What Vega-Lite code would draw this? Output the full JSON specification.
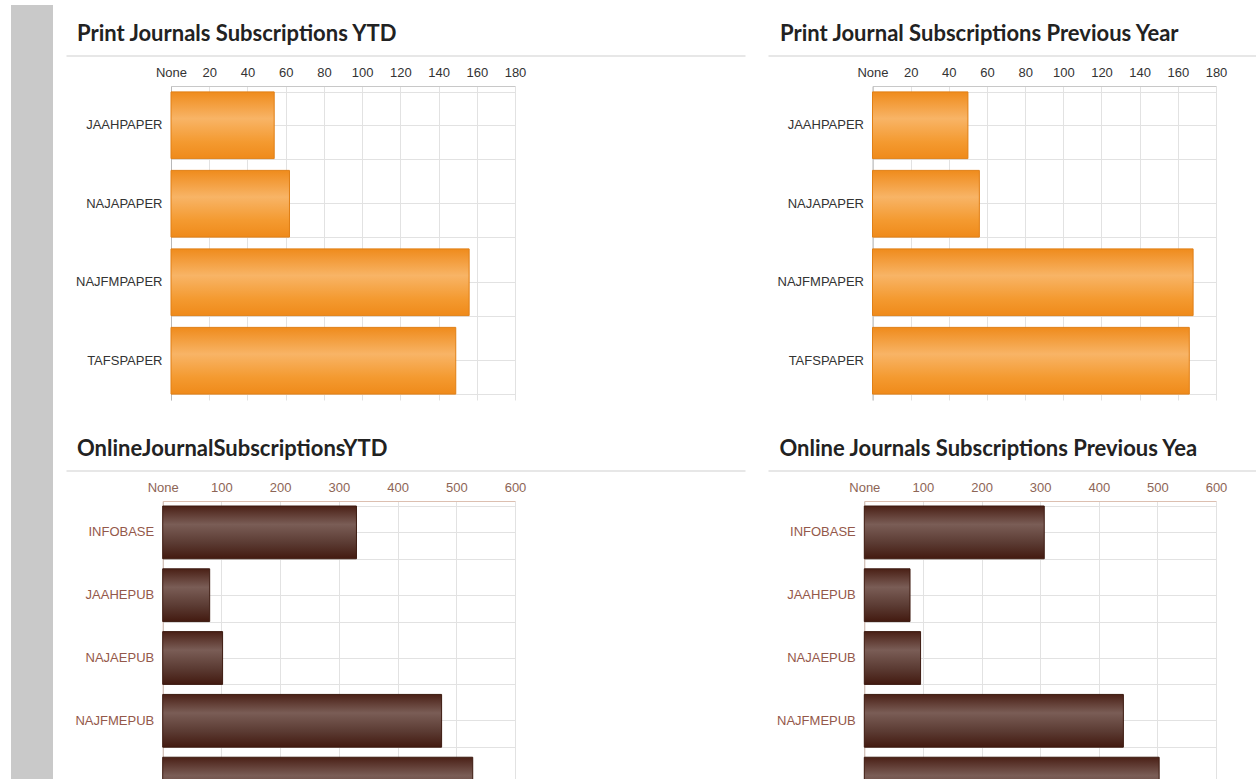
{
  "$schema": "https://vega.github.io/schema/vega-lite/v6.json",
  "background": "white",
  "padding": {"left": 11, "top": 5, "right": 0, "bottom": 0},
  "config": {"view": {"stroke": null}},
  "datasets": {
    "printYTD": [
      {"journal": "JAAHPAPER", "subscriptions": 54},
      {"journal": "NAJAPAPER", "subscriptions": 62},
      {"journal": "NAJFMPAPER", "subscriptions": 156},
      {"journal": "TAFSPAPER", "subscriptions": 149}
    ],
    "printPrev": [
      {"journal": "JAAHPAPER", "subscriptions": 50},
      {"journal": "NAJAPAPER", "subscriptions": 56},
      {"journal": "NAJFMPAPER", "subscriptions": 168},
      {"journal": "TAFSPAPER", "subscriptions": 166}
    ],
    "onlineYTD": [
      {"journal": "INFOBASE", "subscriptions": 330},
      {"journal": "JAAHEPUB", "subscriptions": 80},
      {"journal": "NAJAEPUB", "subscriptions": 102},
      {"journal": "NAJFMEPUB", "subscriptions": 475},
      {"journal": "TAFSEPUB", "subscriptions": 528}
    ],
    "onlinePrev": [
      {"journal": "INFOBASE", "subscriptions": 307},
      {"journal": "JAAHEPUB", "subscriptions": 78},
      {"journal": "NAJAEPUB", "subscriptions": 96},
      {"journal": "NAJFMEPUB", "subscriptions": 442},
      {"journal": "TAFSEPUB", "subscriptions": 503}
    ]
  },
  "spacing": 13,
  "hconcat": [
    {
      "width": 42,
      "height": 690,
      "data": {"values": [{"panel": "sidebar"}]},
      "mark": {"type": "rect", "color": "#c9c9c9"},
      "encoding": {
        "x": {"datum": 0, "type": "quantitative", "scale": {"domain": [0, 1], "range": [0, 42], "nice": false}, "axis": null},
        "x2": {"datum": 1},
        "y": {"datum": 0, "type": "quantitative", "scale": {"domain": [0, 1], "range": [-81, 740], "nice": false, "zero": false}, "axis": null},
        "y2": {"datum": 1}
      }
    },
    {
      "spacing": 38,
      "vconcat": [
        {
          "spacing": 23,
          "hconcat": [
            {
              "width": 679,
              "height": 314,
              "data": {"name": "printYTD"},
              "title": {"text": "Print Journals Subscriptions YTD", "anchor": "start", "frame": "group", "dx": 11, "offset": 9.5, "font": "Lato, Liberation Sans, sans-serif", "fontSize": 22, "fontWeight": "bold", "color": "#222222"},
              "layer": [
                {
                  "mark": {"type": "bar", "stroke": "#e07f15", "strokeWidth": 1, "fill": {"gradient": "linear", "x1": 0, "y1": 0, "x2": 0, "y2": 1, "stops": [{"offset": 0, "color": "#ef8b1c"}, {"offset": 0.4, "color": "#f8b466"}, {"offset": 0.75, "color": "#f49a30"}, {"offset": 1, "color": "#ef8a1a"}]}},
                  "encoding": {
                    "y": {"field": "journal", "type": "nominal", "sort": null, "scale": {"paddingInner": 0.15, "paddingOuter": 0.075}, "axis": {"orient": "left", "offset": -105, "title": null, "ticks": false, "labelPadding": 9, "labelFont": "Liberation Sans, Arial, sans-serif", "labelFontSize": 13, "labelColor": "#333333", "domainColor": "#b8b8b8", "grid": true, "gridColor": "#e2e2e2", "tickBand": "center"}},
                    "x": {"field": "subscriptions", "type": "quantitative", "scale": {"domain": [0, 180], "range": [105, 449], "nice": false}, "axis": {"orient": "top", "values": [0, 20, 40, 60, 80, 100, 120, 140, 160, 180], "labelExpr": "datum.value == 0 ? 'None' : datum.label", "title": null, "ticks": false, "labelPadding": 7, "labelFont": "Liberation Sans, Arial, sans-serif", "labelFontSize": 13, "labelColor": "#333333", "labelFlush": false, "labelOverlap": false, "domainColor": "#c8c8c8", "grid": true, "gridColor": "#e2e2e2"}}
                  }
                },
                {
                  "mark": {"type": "bar", "opacity": 0},
                  "encoding": {
                    "y": {"field": "journal", "type": "nominal", "sort": null, "axis": {"orient": "left", "offset": -105, "title": null, "labels": false, "ticks": false, "domain": false, "grid": true, "gridColor": "#e2e2e2", "tickBand": "extent"}},
                    "x": {"field": "subscriptions", "type": "quantitative", "scale": {"domain": [0, 180], "range": [105, 449], "nice": false}, "axis": null}
                  }
                },
                {
                  "mark": {"type": "bar", "opacity": 0},
                  "encoding": {
                    "y": {"field": "journal", "type": "nominal", "sort": null, "axis": null},
                    "x": {"field": "subscriptions", "type": "quantitative", "scale": {"domain": [0, 1000], "nice": false}, "axis": {"orient": "top", "offset": 30.5, "title": null, "labels": false, "ticks": false, "grid": false, "domainColor": "#cfcfcf"}}
                  }
                }
              ],
              "resolve": {"scale": {"x": "independent"}, "axis": {"x": "independent", "y": "independent"}}
            },
            {
              "width": 488,
              "height": 314,
              "data": {"name": "printPrev"},
              "title": {"text": "Print Journal Subscriptions Previous Year", "anchor": "start", "frame": "group", "dx": 12, "offset": 9.5, "font": "Lato, Liberation Sans, sans-serif", "fontSize": 22, "fontWeight": "bold", "color": "#222222"},
              "layer": [
                {
                  "mark": {"type": "bar", "stroke": "#e07f15", "strokeWidth": 1, "fill": {"gradient": "linear", "x1": 0, "y1": 0, "x2": 0, "y2": 1, "stops": [{"offset": 0, "color": "#ef8b1c"}, {"offset": 0.4, "color": "#f8b466"}, {"offset": 0.75, "color": "#f49a30"}, {"offset": 1, "color": "#ef8a1a"}]}},
                  "encoding": {
                    "y": {"field": "journal", "type": "nominal", "sort": null, "scale": {"paddingInner": 0.15, "paddingOuter": 0.075}, "axis": {"orient": "left", "offset": -104.5, "title": null, "ticks": false, "labelPadding": 9, "labelFont": "Liberation Sans, Arial, sans-serif", "labelFontSize": 13, "labelColor": "#333333", "domainColor": "#b8b8b8", "grid": true, "gridColor": "#e2e2e2", "tickBand": "center"}},
                    "x": {"field": "subscriptions", "type": "quantitative", "scale": {"domain": [0, 180], "range": [104.5, 448], "nice": false}, "axis": {"orient": "top", "values": [0, 20, 40, 60, 80, 100, 120, 140, 160, 180], "labelExpr": "datum.value == 0 ? 'None' : datum.label", "title": null, "ticks": false, "labelPadding": 7, "labelFont": "Liberation Sans, Arial, sans-serif", "labelFontSize": 13, "labelColor": "#333333", "labelFlush": false, "labelOverlap": false, "domainColor": "#c8c8c8", "grid": true, "gridColor": "#e2e2e2"}}
                  }
                },
                {
                  "mark": {"type": "bar", "opacity": 0},
                  "encoding": {
                    "y": {"field": "journal", "type": "nominal", "sort": null, "axis": {"orient": "left", "offset": -104.5, "title": null, "labels": false, "ticks": false, "domain": false, "grid": true, "gridColor": "#e2e2e2", "tickBand": "extent"}},
                    "x": {"field": "subscriptions", "type": "quantitative", "scale": {"domain": [0, 180], "range": [104.5, 448], "nice": false}, "axis": null}
                  }
                },
                {
                  "mark": {"type": "bar", "opacity": 0},
                  "encoding": {
                    "y": {"field": "journal", "type": "nominal", "sort": null, "axis": null},
                    "x": {"field": "subscriptions", "type": "quantitative", "scale": {"domain": [0, 1000], "nice": false}, "axis": {"orient": "top", "offset": 30.5, "title": null, "labels": false, "ticks": false, "grid": false, "domainColor": "#cfcfcf"}}
                  }
                }
              ],
              "resolve": {"scale": {"x": "independent"}, "axis": {"x": "independent", "y": "independent"}}
            }
          ]
        },
        {
          "spacing": 23,
          "hconcat": [
            {
              "width": 679,
              "height": 314,
              "data": {"name": "onlineYTD"},
              "title": {"text": "OnlineJournalSubscriptionsYTD", "anchor": "start", "frame": "group", "dx": 11, "offset": 9.5, "font": "Lato, Liberation Sans, sans-serif", "fontSize": 22, "fontWeight": "bold", "color": "#222222"},
              "layer": [
                {
                  "mark": {"type": "bar", "stroke": "#3c1a10", "strokeWidth": 1, "fill": {"gradient": "linear", "x1": 0, "y1": 0, "x2": 0, "y2": 1, "stops": [{"offset": 0, "color": "#4a2016"}, {"offset": 0.35, "color": "#7a5d56"}, {"offset": 0.7, "color": "#5b3b33"}, {"offset": 1, "color": "#431a10"}]}},
                  "encoding": {
                    "y": {"field": "journal", "type": "nominal", "sort": null, "scale": {"paddingInner": 0.16, "paddingOuter": 0.08}, "axis": {"orient": "left", "offset": -96.7, "title": null, "ticks": false, "labelPadding": 9, "labelFont": "Liberation Sans, Arial, sans-serif", "labelFontSize": 13, "labelColor": "#94584a", "domainColor": "#cdb6aa", "grid": true, "gridColor": "#e2e2e2", "tickBand": "center"}},
                    "x": {"field": "subscriptions", "type": "quantitative", "scale": {"domain": [0, 600], "range": [96.7, 449], "nice": false}, "axis": {"orient": "top", "values": [0, 100, 200, 300, 400, 500, 600], "labelExpr": "datum.value == 0 ? 'None' : datum.label", "title": null, "ticks": false, "labelPadding": 7, "labelFont": "Liberation Sans, Arial, sans-serif", "labelFontSize": 13, "labelColor": "#8d6556", "labelFlush": false, "labelOverlap": false, "domainColor": "#dcbfb0", "grid": true, "gridColor": "#e2e2e2"}}
                  }
                },
                {
                  "mark": {"type": "bar", "opacity": 0},
                  "encoding": {
                    "y": {"field": "journal", "type": "nominal", "sort": null, "axis": {"orient": "left", "offset": -96.7, "title": null, "labels": false, "ticks": false, "domain": false, "grid": true, "gridColor": "#e2e2e2", "tickBand": "extent"}},
                    "x": {"field": "subscriptions", "type": "quantitative", "scale": {"domain": [0, 600], "range": [96.7, 449], "nice": false}, "axis": null}
                  }
                },
                {
                  "mark": {"type": "bar", "opacity": 0},
                  "encoding": {
                    "y": {"field": "journal", "type": "nominal", "sort": null, "axis": null},
                    "x": {"field": "subscriptions", "type": "quantitative", "scale": {"domain": [0, 1000], "nice": false}, "axis": {"orient": "top", "offset": 30.5, "title": null, "labels": false, "ticks": false, "grid": false, "domainColor": "#cfcfcf"}}
                  }
                }
              ],
              "resolve": {"scale": {"x": "independent"}, "axis": {"x": "independent", "y": "independent"}}
            },
            {
              "width": 488,
              "height": 314,
              "data": {"name": "onlinePrev"},
              "title": {"text": "Online Journals Subscriptions Previous Yea", "anchor": "start", "frame": "group", "dx": 11.5, "offset": 9.5, "font": "Lato, Liberation Sans, sans-serif", "fontSize": 22, "fontWeight": "bold", "color": "#222222"},
              "layer": [
                {
                  "mark": {"type": "bar", "stroke": "#3c1a10", "strokeWidth": 1, "fill": {"gradient": "linear", "x1": 0, "y1": 0, "x2": 0, "y2": 1, "stops": [{"offset": 0, "color": "#4a2016"}, {"offset": 0.35, "color": "#7a5d56"}, {"offset": 0.7, "color": "#5b3b33"}, {"offset": 1, "color": "#431a10"}]}},
                  "encoding": {
                    "y": {"field": "journal", "type": "nominal", "sort": null, "scale": {"paddingInner": 0.16, "paddingOuter": 0.08}, "axis": {"orient": "left", "offset": -96.3, "title": null, "ticks": false, "labelPadding": 9, "labelFont": "Liberation Sans, Arial, sans-serif", "labelFontSize": 13, "labelColor": "#94584a", "domainColor": "#cdb6aa", "grid": true, "gridColor": "#e2e2e2", "tickBand": "center"}},
                    "x": {"field": "subscriptions", "type": "quantitative", "scale": {"domain": [0, 600], "range": [96.3, 448], "nice": false}, "axis": {"orient": "top", "values": [0, 100, 200, 300, 400, 500, 600], "labelExpr": "datum.value == 0 ? 'None' : datum.label", "title": null, "ticks": false, "labelPadding": 7, "labelFont": "Liberation Sans, Arial, sans-serif", "labelFontSize": 13, "labelColor": "#8d6556", "labelFlush": false, "labelOverlap": false, "domainColor": "#dcbfb0", "grid": true, "gridColor": "#e2e2e2"}}
                  }
                },
                {
                  "mark": {"type": "bar", "opacity": 0},
                  "encoding": {
                    "y": {"field": "journal", "type": "nominal", "sort": null, "axis": {"orient": "left", "offset": -96.3, "title": null, "labels": false, "ticks": false, "domain": false, "grid": true, "gridColor": "#e2e2e2", "tickBand": "extent"}},
                    "x": {"field": "subscriptions", "type": "quantitative", "scale": {"domain": [0, 600], "range": [96.3, 448], "nice": false}, "axis": null}
                  }
                },
                {
                  "mark": {"type": "bar", "opacity": 0},
                  "encoding": {
                    "y": {"field": "journal", "type": "nominal", "sort": null, "axis": null},
                    "x": {"field": "subscriptions", "type": "quantitative", "scale": {"domain": [0, 1000], "nice": false}, "axis": {"orient": "top", "offset": 30.5, "title": null, "labels": false, "ticks": false, "grid": false, "domainColor": "#cfcfcf"}}
                  }
                }
              ],
              "resolve": {"scale": {"x": "independent"}, "axis": {"x": "independent", "y": "independent"}}
            }
          ]
        }
      ]
    }
  ]
}
